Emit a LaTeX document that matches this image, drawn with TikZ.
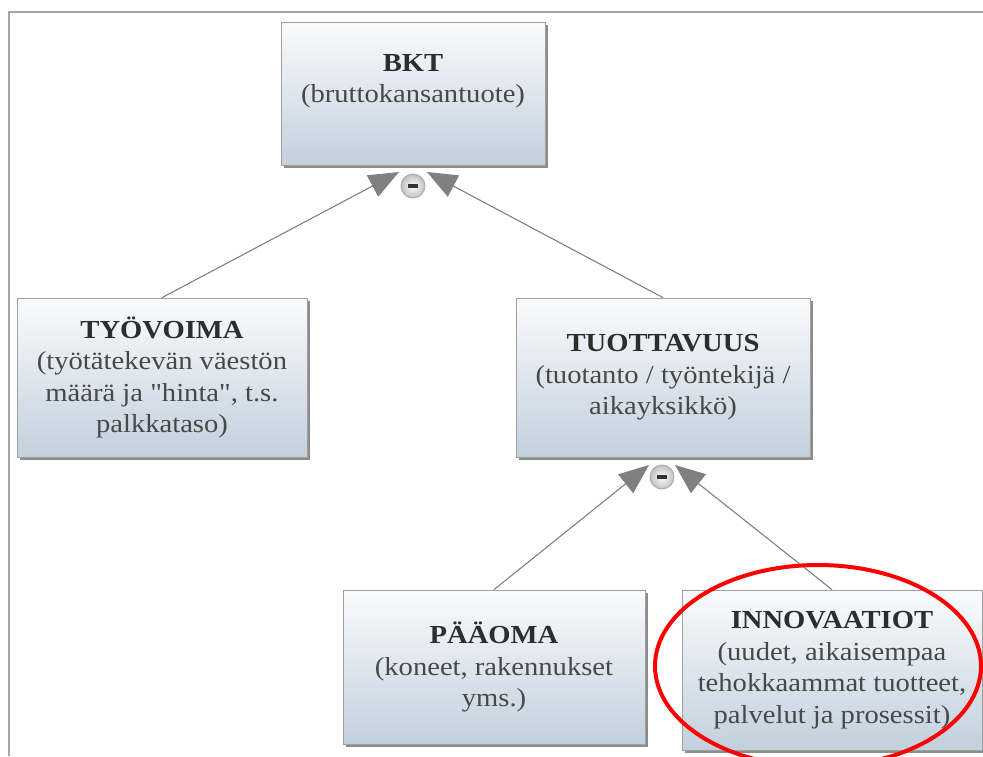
\documentclass[tikz,border=0pt]{standalone}
\usepackage{fontspec}
\setmainfont[FakeStretch=1.1,Ligatures=TeXOff]{Liberation Serif}
\usetikzlibrary{arrows.meta,shadows,shapes.geometric,calc}
\definecolor{boxtop}{RGB}{250,251,253}
\definecolor{boxbot}{RGB}{194,208,221}
\definecolor{boxline}{RGB}{160,160,160}
\definecolor{txt}{RGB}{72,72,72}
\definecolor{ttl}{RGB}{45,45,45}
\definecolor{conn}{RGB}{128,128,128}
\definecolor{framec}{RGB}{166,166,166}
\begin{document}
\begin{tikzpicture}[x=1pt,y=-1pt,
  conceptbox/.style={draw=boxline, line width=0.8pt, top color=boxtop, bottom color=boxbot,
    drop shadow={shadow xshift=2.5pt, shadow yshift=-3pt, fill=black, opacity=0.45},
    align=center, text=txt, inner sep=0pt, font=\fontsize{26}{31.5}\selectfont},
  boxtext/.style={align=center, text=txt, inner sep=0pt, font=\fontsize{26}{31.5}\selectfont},
  minusnode/.style={circle, draw=gray!65, line width=0.9pt, inner color=white, outer color=gray!50,
    minimum size=24pt, inner sep=0pt},
  link/.style={draw=conn, line width=1.1pt, -{Triangle[length=30pt,width=24pt]}},
]
\useasboundingbox (0,0) rectangle (983,756);
% frame
\draw[framec, line width=2.5pt] (9,756) -- (9,12) -- (983,12);
% boxes
\node[conceptbox, minimum width=264pt, minimum height=143pt] (bkt) at (413,93.5) {};
\node[boxtext] (bkttext) at (413,81)
  {\textcolor{ttl}{\textbf{BKT}}\\(bruttokansantuote)};
\node[conceptbox, minimum width=290pt, minimum height=159pt] (tyo) at (162,377.5)
  {\textcolor{ttl}{\textbf{TYÖVOIMA}}\\(työtätekevän väestön\\määrä ja "hinta", t.s.\\palkkataso)};
\node[conceptbox, minimum width=294pt, minimum height=159pt] (tuo) at (663,377.5)
  {\textcolor{ttl}{\textbf{TUOTTAVUUS}}\\(tuotanto / työntekijä /\\aikayksikkö)};
\node[conceptbox, minimum width=302pt, minimum height=154pt] (paa) at (494,667)
  {\textcolor{ttl}{\textbf{PÄÄOMA}}\\(koneet, rakennukset\\yms.)};
\node[conceptbox, minimum width=300pt, minimum height=160pt] (inn) at (832,670)
  {\textcolor{ttl}{\textbf{INNOVAATIOT}}\\(uudet, aikaisempaa\\tehokkaammat tuotteet,\\palvelut ja prosessit)};
% minus markers
\node[minusnode] (m1) at (413,186) {};
\fill[black!80] ($(m1.center)+(-5,-1.8)$) rectangle ($(m1.center)+(5,1.8)$);
\node[minusnode] (m2) at (662,477) {};
\fill[black!80] ($(m2.center)+(-5,-1.8)$) rectangle ($(m2.center)+(5,1.8)$);
% arrow tips
\coordinate (t1l) at (399,172);
\coordinate (t1r) at (427,172);
\coordinate (t2l) at (649,465);
\coordinate (t2r) at (675,465);
% connectors
\draw[link] (tyo.north) -- (t1l);
\draw[link] (tuo.north) -- (t1r);
\draw[link] (paa.north) -- (t2l);
\draw[link] (inn.north) -- (t2r);
% red ellipse
\draw[red, line width=4pt] (818,666) ellipse [x radius=163, y radius=101];
\end{tikzpicture}
\end{document}
